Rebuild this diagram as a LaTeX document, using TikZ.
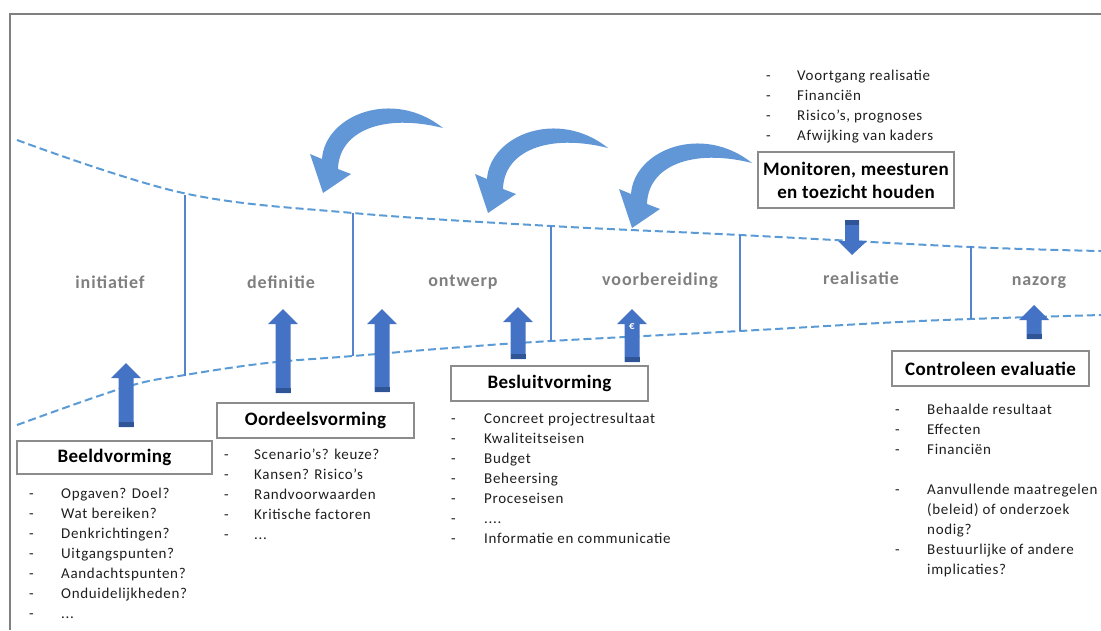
\documentclass[tikz,border=0pt]{standalone}
\usepackage{fontspec}
\setmainfont{Carlito}
\newfontfamily\listfont{Carlito}[LetterSpace=4.5]
\newfontfamily\phasefont{Carlito}[LetterSpace=5]
\newfontfamily\titlefont{Carlito}[LetterSpace=2]
\definecolor{dashblue}{HTML}{5B9BD5}
\definecolor{curveblue}{HTML}{6197D6}
\definecolor{blockblue}{HTML}{4472C4}
\definecolor{blockdark}{HTML}{2F5597}
\definecolor{sepblue}{HTML}{5583CC}
\definecolor{phasegray}{HTML}{7F7F7F}
\definecolor{framegray}{HTML}{808080}
\definecolor{boxgray}{HTML}{8C8C8C}
\definecolor{listtext}{HTML}{1E1E1E}
\tikzset{
  phase/.style={text=phasegray, font=\phasefont\fontsize{18}{20}\selectfont\bfseries, inner sep=0, anchor=base},
  titlebox/.style={draw=boxgray, line width=1.2pt, fill=white, font=\titlefont\fontsize{19}{23}\selectfont\bfseries, inner sep=0, align=center},
  itemlist/.style={inner sep=0, anchor=base west, font=\listfont\fontsize{15}{20}\selectfont, text=listtext},
  dashcurve/.style={draw=dashblue, line width=2pt, dash pattern=on 8pt off 4pt},
  sepline/.style={draw=sepblue, line width=1.1pt},
  frameline/.style={draw=framegray, line width=2pt},
}
\newcommand\blkup[3]{%
  \fill[blockblue] (#1-7.5,#3) -- (#1-7.5,#2+15) -- (#1-15,#2+15) -- (#1,#2) -- (#1+15,#2+15) -- (#1+7.5,#2+15) -- (#1+7.5,#3) -- cycle;
  \fill[blockdark] (#1-7.5,#3) rectangle (#1+7.5,#3-5);
}
\newcommand\curvarrow[2]{%
  \fill[curveblue, shift={(#1,#2)}] (0,0) -- (28,-19) -- (15,-24) .. controls (16,-62) and (60,-80) .. (120,-65) .. controls (70,-105) and (2,-78) .. (-1,-34) -- (-13,-39) -- cycle;
}
\begin{document}
\begin{tikzpicture}[x=1pt,y=-1pt]
\useasboundingbox (0,0) rectangle (1101,630);
% frame
\draw[frameline] (10.3,630) -- (10.3,14.3) -- (1101,14.3);
% dashed curves
\draw[dashcurve] plot[smooth, tension=0.6] coordinates {(17,140) (183,193) (353,213) (551,226) (740,235) (970,247) (1101,251)};
\draw[dashcurve] plot[smooth, tension=0.6] coordinates {(17,425) (126,387) (185,375) (267,363) (353,356) (450,348) (551,341) (740,331) (880,323) (970,319) (1101,315)};
% separators
\coordinate (s1t) at (185,195); \coordinate (s1b) at (185,376);
\coordinate (s2t) at (353,213); \coordinate (s2b) at (353,356);
\coordinate (s3t) at (551,226); \coordinate (s3b) at (551,341);
\coordinate (s4t) at (740,235); \coordinate (s4b) at (740,331);
\coordinate (s5t) at (971,246); \coordinate (s5b) at (971,319);
\draw[sepline] (s1t) -- (s1b);
\draw[sepline] (s2t) -- (s2b);
\draw[sepline] (s3t) -- (s3b);
\draw[sepline] (s4t) -- (s4b);
\draw[sepline] (s5t) -- (s5b);
% phase labels
\node[phase] (initiatief) at (110,288) {initiatief};
\node[phase] (definitie) at (281,288) {definitie};
\node[phase] (ontwerp) at (463,286) {ontwerp};
\node[phase] (voorbereiding) at (660,285) {voorbereiding};
\node[phase] (realisatie) at (861,284) {realisatie};
\node[phase] (nazorg) at (1039,285) {nazorg};
% curved arrows
\curvarrow{323}{193}
\curvarrow{488}{213}
\curvarrow{632}{228}
% block arrows
\blkup{126}{363}{427}
\blkup{283}{309}{393}
\blkup{382}{309}{392}
\blkup{518}{307}{359}
\blkup{632}{309}{362}
\blkup{1034}{305}{339}
\node[text=white, font=\fontsize{11}{11}\selectfont\bfseries, inner sep=0] (euro) at (632,327) {€};
% down arrow
\fill[blockblue] (845,220) -- (845,241) -- (838,241) -- (852,255) -- (867,241) -- (859,241) -- (859,220) -- cycle;
\fill[blockdark] (845,220) rectangle (859,225);
% title boxes
\node[titlebox, minimum width=195pt, minimum height=33pt] (beeld) at (114.5,457.5) {Beeldvorming};
\node[titlebox, minimum width=197pt, minimum height=35pt] (oordeel) at (315.5,420.5) {Oordeelsvorming};
\node[titlebox, minimum width=197pt, minimum height=35pt] (besluit) at (549.5,383.5) {Besluitvorming};
\node[titlebox, minimum width=197pt, minimum height=35pt] (controle) at (990.5,368.5) {Controleen evaluatie};
\node[titlebox, minimum width=196pt, minimum height=56pt] (monitor) at (856,180) {Monitoren, meesturen\\en toezicht houden};
% lists
\node[itemlist] (monlist) at (766,80) {\begin{tabular}[t]{@{}p{31pt}@{}l@{}}
-&Voortgang realisatie\\
-&Financiën\\
-&Risico’s, prognoses\\
-&Afwijking van kaders
\end{tabular}};
\node[itemlist] (beeldlist) at (29,498) {\begin{tabular}[t]{@{}p{32pt}@{}l@{}}
-&Opgaven? Doel?\\
-&Wat bereiken?\\
-&Denkrichtingen?\\
-&Uitgangspunten?\\
-&Aandachtspunten?\\
-&Onduidelijkheden?\\
-&...
\end{tabular}};
\node[itemlist] (oordeellist) at (224,459) {\begin{tabular}[t]{@{}p{30pt}@{}l@{}}
-&Scenario’s? keuze?\\
-&Kansen? Risico’s\\
-&Randvoorwaarden\\
-&Kritische factoren\\
-&...
\end{tabular}};
\node[itemlist] (besluitlist) at (451,423) {\begin{tabular}[t]{@{}p{33pt}@{}l@{}}
-&Concreet projectresultaat\\
-&Kwaliteitseisen\\
-&Budget\\
-&Beheersing\\
-&Proceseisen\\
-&....\\
-&Informatie en communicatie
\end{tabular}};
\node[itemlist] (controlelist) at (895,414) {\begin{tabular}[t]{@{}p{32pt}@{}l@{}}
-&Behaalde resultaat\\
-&Effecten\\
-&Financiën\\
&\\
-&Aanvullende maatregelen\\
&(beleid) of onderzoek\\
&nodig?\\
-&Bestuurlijke of andere\\
&implicaties?
\end{tabular}};
\end{tikzpicture}
\end{document}
